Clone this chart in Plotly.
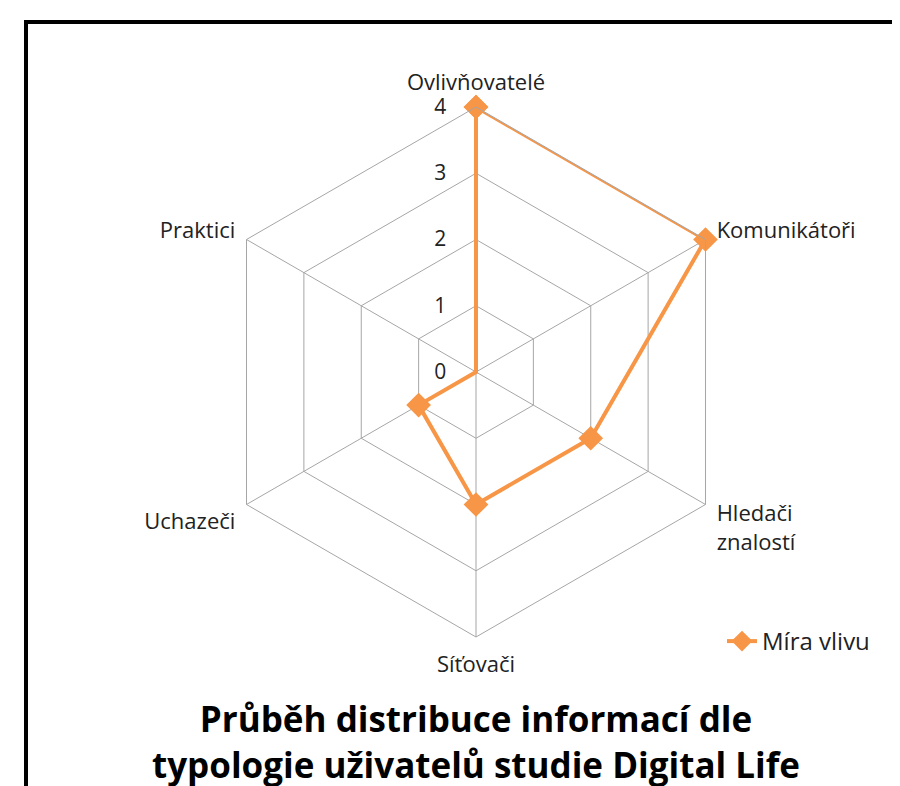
import plotly.graph_objects as go

categories = ["Ovlivňovatelé", "Komunikátoři", "Hledači<br>znalostí", "Síťovači", "Uchazeči", "Praktici"]
values = [4, 4, 2, 2, 1, 0]
series_name = "Míra vlivu"
radial_ticks = [0, 1, 2, 3, 4]

W, H = 900, 786
OFF = 8  # page offset of the rendered figure
cx, cy, R = 476 - OFF, 372 - OFF, 265

theta = categories + [categories[0]]
r = values + [values[0]]

FONT = "'Open Sans', sans-serif"

fig = go.Figure()
fig.add_trace(go.Scatterpolar(
    r=r, theta=theta, mode="lines+markers", name=series_name,
    line=dict(color="#F79646", width=4),
    marker=dict(symbol="diamond", size=19, color="#F79646"),
))

fig.update_layout(
    width=W, height=H,
    margin=dict(l=0, r=0, t=0, b=0),
    paper_bgcolor="white",
    font=dict(family=FONT, size=22, color="#222"),
    polar=dict(
        domain=dict(x=[(cx - R) / W, (cx + R) / W], y=[(H - cy - R) / H, (H - cy + R) / H]),
        gridshape="linear",
        bgcolor="white",
        radialaxis=dict(range=[0, 4], tickvals=radial_ticks, angle=90, showline=False,
                        gridcolor="#A6A6A6", gridwidth=1, ticks="outside", ticklen=22,
                        tickcolor="rgba(0,0,0,0)", tickangle=90,
                        tickfont=dict(size=21, color="#222"), side="counterclockwise"),
        angularaxis=dict(rotation=90, direction="clockwise", gridcolor="#A6A6A6",
                         linecolor="#A6A6A6", linewidth=1, ticks="outside", ticklen=8,
                         tickcolor="rgba(0,0,0,0)",
                         tickfont=dict(size=22, color="#222")),
    ),
    showlegend=True,
    legend=dict(x=(722 - OFF) / W, y=1 - (619 - OFF) / H, xanchor="left", yanchor="top",
                font=dict(size=24, color="#222"), bgcolor="rgba(0,0,0,0)"),
)

fig.add_shape(type="rect", xref="paper", yref="paper",
              x0=(26 - OFF) / W, x1=1.05, y0=-0.05, y1=1 - (22 - OFF) / H,
              line=dict(color="black", width=4))

fig.add_annotation(x=(476 - OFF) / W, y=1 - (741 - OFF) / H, xref="paper", yref="paper",
                   text="<b>Průběh distribuce informací dle<br>typologie uživatelů studie Digital Life</b>",
                   showarrow=False, font=dict(family=FONT, size=35, color="black"), align="center",
                   yanchor="middle")

fig.write_html("out.html")
